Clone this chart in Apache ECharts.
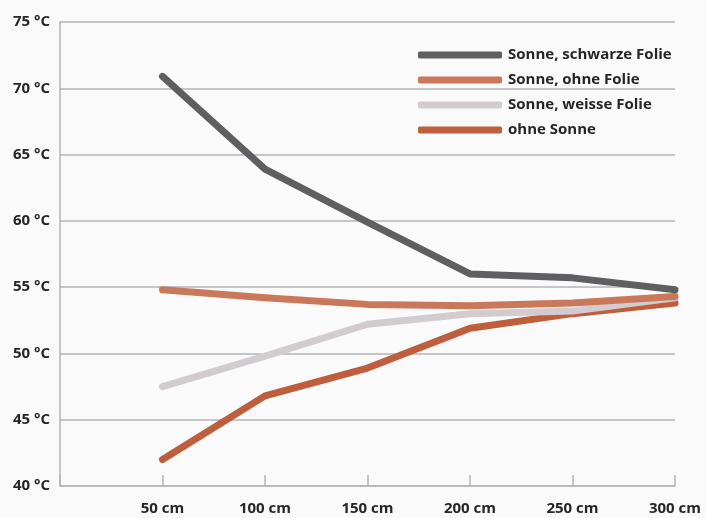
<!DOCTYPE html>
<html><head><meta charset="utf-8">
<script src="https://cdn.jsdelivr.net/npm/echarts@6/dist/echarts.min.js"></script>
<style>html,body{margin:0;padding:0;background:#fafafa}#c{width:707px;height:518px}</style>
</head><body><div id="c"></div>
<script>
var distances = [50, 100, 150, 200, 250, 300];
var seriesNames = ['Sonne, schwarze Folie', 'Sonne, ohne Folie', 'Sonne, weisse Folie', 'ohne Sonne'];
var schwarzeFolie = [70.9, 63.9, 59.9, 56.0, 55.7, 54.8];
var ohneFolie = [54.8, 54.2, 53.7, 53.6, 53.8, 54.3];
var weisseFolie = [47.5, 49.8, 52.2, 53.0, 53.2, 54.2];
var ohneSonne = [42.0, 46.8, 48.9, 51.9, 53.0, 53.8];
var colors = ['#5f5f61', '#c9795a', '#d2ccd0', '#bf5e3c'];
var values = [schwarzeFolie, ohneFolie, weisseFolie, ohneSonne];

var font = '"Open Sans", "DejaVu Sans", sans-serif';
var chart = echarts.init(document.getElementById('c'));
chart.setOption({
  backgroundColor: '#fafafa',
  animation: false,
  grid: {left: 60, right: 32, top: 22, bottom: 32, containLabel: false},
  legend: {
    orient: 'vertical', left: 413, top: 41,
    itemWidth: 84, itemHeight: 7, itemGap: 7,
    icon: 'roundRect',
    textStyle: {fontFamily: font, fontWeight: 'bold', fontSize: 15, color: '#262626', lineHeight: 18, padding: [0,0,0,1]},
    data: seriesNames
  },
  xAxis: {
    type: 'value', min: 0, max: 300, interval: 50,
    axisLine: {show: true, lineStyle: {color: '#b5b5b8', width: 1.5}},
    axisTick: {show: true, inside: true, length: 11, lineStyle: {color: '#b5b5b8', width: 1.5}},
    splitLine: {show: false},
    axisLabel: {
      margin: 15, fontFamily: font, fontWeight: 'bold', fontSize: 15, color: '#262626',
      formatter: function (v) { return v === 0 ? '' : v + ' cm'; }
    }
  },
  yAxis: {
    type: 'value', min: 40, max: 75, interval: 5,
    axisLine: {show: true, lineStyle: {color: '#b5b5b8', width: 1.5}},
    axisTick: {show: false},
    splitLine: {show: true, lineStyle: {color: '#b5b5b8', width: 1.5}},
    axisLabel: {
      margin: 10, fontFamily: font, fontWeight: 'bold', fontSize: 15, color: '#262626',
      formatter: function (v) { return v + ' °C'; }
    }
  },
  series: seriesNames.map(function (n, i) {
    return {
      name: n, type: 'line', symbol: 'none',
      data: distances.map(function (d, j) { return [d, values[i][j]]; }),
      itemStyle: {color: colors[i]},
      lineStyle: {color: colors[i], width: 7, cap: 'round', join: 'round'},
      z: 10 - i
    };
  })
});
</script></body></html>
